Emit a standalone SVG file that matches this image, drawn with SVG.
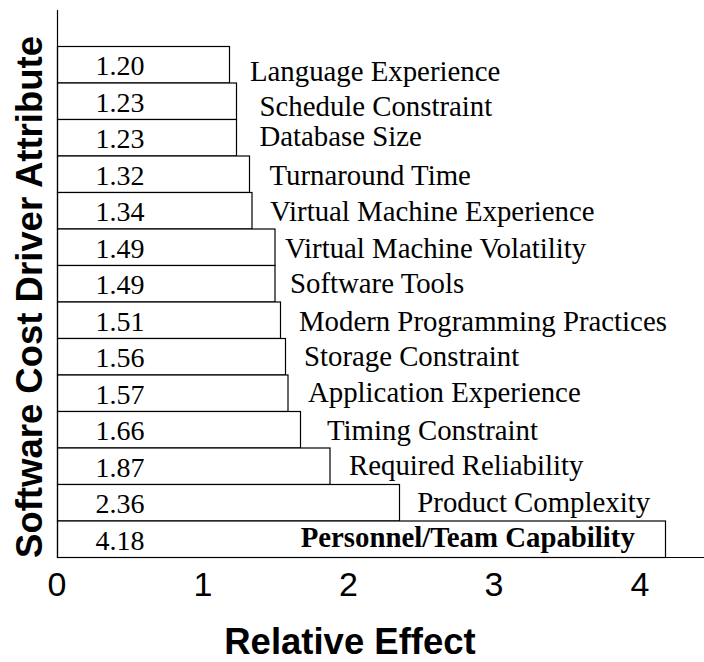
<svg xmlns="http://www.w3.org/2000/svg" width="704" height="662" viewBox="0 0 704 662">
  <style>
    .bar { fill: #fff; stroke: #000; stroke-width: 1.2; }
    .axis { stroke: #000; stroke-width: 1.2; fill: none; }
    .val { font-family: "Liberation Serif", "Times New Roman", serif; font-size: 28px; fill: #000; }
    .lbl { font-family: "Liberation Serif", "Times New Roman", serif; font-size: 28.8px; fill: #000; }
    .lbl-b { font-family: "Liberation Serif", "Times New Roman", serif; font-size: 28.8px; font-weight: bold; fill: #000; }
    .tick { font-family: "Liberation Sans", Arial, sans-serif; font-size: 34px; fill: #000; text-anchor: middle; }
    .title { font-family: "Liberation Sans", Arial, sans-serif; font-size: 36.5px; font-weight: bold; fill: #000; text-anchor: middle; }
  </style>
  <rect width="704" height="662" fill="#fff"/>

  <!-- bars: height 36.5, origin x = 57.5 -->
  <g id="bars">
    <g id="bar-language-experience"><rect class="bar" x="57.5" y="46.5" width="172" height="36.5"/><text class="val" x="95.5" y="75">1.20</text></g>
    <g id="bar-schedule-constraint"><rect class="bar" x="57.5" y="83" width="179" height="36.5"/><text class="val" x="95.5" y="111.5">1.23</text></g>
    <g id="bar-database-size"><rect class="bar" x="57.5" y="119.5" width="179" height="36.5"/><text class="val" x="95.5" y="148">1.23</text></g>
    <g id="bar-turnaround-time"><rect class="bar" x="57.5" y="156" width="192" height="36.5"/><text class="val" x="95.5" y="184.5">1.32</text></g>
    <g id="bar-vm-experience"><rect class="bar" x="57.5" y="192.5" width="194.5" height="36.5"/><text class="val" x="95.5" y="221">1.34</text></g>
    <g id="bar-vm-volatility"><rect class="bar" x="57.5" y="229" width="217.5" height="36.5"/><text class="val" x="95.5" y="257.5">1.49</text></g>
    <g id="bar-software-tools"><rect class="bar" x="57.5" y="265.5" width="217.5" height="36.5"/><text class="val" x="95.5" y="294">1.49</text></g>
    <g id="bar-modern-practices"><rect class="bar" x="57.5" y="302" width="223" height="36.5"/><text class="val" x="95.5" y="330.5">1.51</text></g>
    <g id="bar-storage-constraint"><rect class="bar" x="57.5" y="338.5" width="228" height="36.5"/><text class="val" x="95.5" y="367">1.56</text></g>
    <g id="bar-application-experience"><rect class="bar" x="57.5" y="375" width="230.5" height="36.5"/><text class="val" x="95.5" y="403.5">1.57</text></g>
    <g id="bar-timing-constraint"><rect class="bar" x="57.5" y="411.5" width="243" height="36.5"/><text class="val" x="95.5" y="440">1.66</text></g>
    <g id="bar-required-reliability"><rect class="bar" x="57.5" y="448" width="272.5" height="36.5"/><text class="val" x="95.5" y="476.5">1.87</text></g>
    <g id="bar-product-complexity"><rect class="bar" x="57.5" y="484.5" width="342" height="36.5"/><text class="val" x="95.5" y="513">2.36</text></g>
    <g id="bar-personnel-capability"><rect class="bar" x="57.5" y="521" width="608" height="36.5"/><text class="val" x="95.5" y="549.5">4.18</text></g>
  </g>

  <!-- attribute names beside each bar -->
  <g id="labels">
    <text class="lbl" x="250" y="81">Language Experience</text>
    <text class="lbl" x="259.5" y="116">Schedule Constraint</text>
    <text class="lbl" x="259.5" y="146">Database Size</text>
    <text class="lbl" x="269.5" y="184.5">Turnaround Time</text>
    <text class="lbl" x="270" y="220.5">Virtual Machine Experience</text>
    <text class="lbl" x="285" y="257.5">Virtual Machine Volatility</text>
    <text class="lbl" x="290" y="293">Software Tools</text>
    <text class="lbl" x="299" y="331">Modern Programming Practices</text>
    <text class="lbl" x="304" y="365.5">Storage Constraint</text>
    <text class="lbl" x="308" y="401.5">Application Experience</text>
    <text class="lbl" x="327" y="439.5">Timing Constraint</text>
    <text class="lbl" x="349" y="475">Required Reliability</text>
    <text class="lbl" x="417.3" y="512">Product Complexity</text>
    <text class="lbl-b" x="300.7" y="546.5">Personnel/Team Capability</text>
  </g>

  <!-- axes -->
  <g id="axes">
    <path class="axis" d="M57.5 10 V557.5 H704"/>
    <text class="tick" x="57" y="596">0</text>
    <text class="tick" x="203" y="596">1</text>
    <text class="tick" x="348.5" y="596">2</text>
    <text class="tick" x="494" y="596">3</text>
    <text class="tick" x="640" y="596">4</text>
    <text class="title" x="350" y="654">Relative Effect</text>
    <text class="title" transform="translate(42 297) rotate(-90)">Software Cost Driver Attribute</text>
  </g>
</svg>
